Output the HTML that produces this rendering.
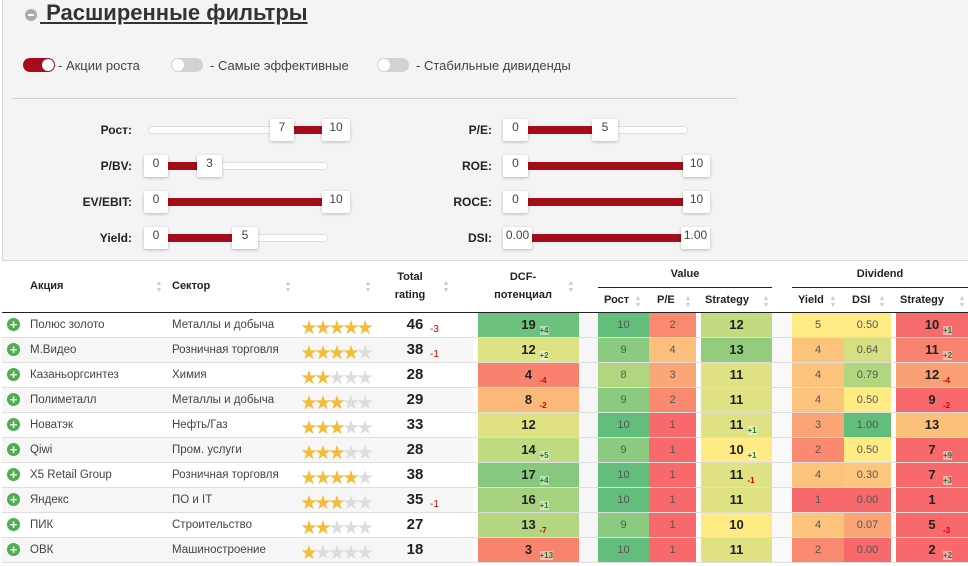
<!DOCTYPE html>
<html><head><meta charset="utf-8">
<style>
*{box-sizing:border-box;margin:0;padding:0}
body{width:968px;height:566px;overflow:hidden;background:#fff;font-family:"Liberation Sans","Noto Sans CJK SC",sans-serif;color:#333;position:relative}
.a{position:absolute}
#panel{left:2px;top:-1px;width:968px;height:262px;background:#f4f4f4;border:1px solid #d8d8d8}
.tog{width:32px;height:14px;border-radius:7px}
.tog .k{position:absolute;top:1px;width:12px;height:12px;border-radius:50%;background:#fff}
.tl{font-size:13px;color:#444}
.lbl{font-size:12px;font-weight:bold;color:#222;text-align:right;width:90px}
.track{height:8px;background:#fff;border:1px solid #ddd;border-radius:4px}
.fill{height:8px;background:#a50d1b}
.h{height:22px;background:#fff;box-shadow:0 1px 3px rgba(0,0,0,.25);border-radius:2px;font-size:12px;color:#444;text-align:center;line-height:16px}
.th{font-size:11px;font-weight:bold;color:#222;text-align:center}
.sort{font-size:7px;color:#ccc;line-height:7px;width:8px;text-align:center}
.cell{height:24px;text-align:center;line-height:24px}
.num{font-size:11px;color:#555}
.big{font-size:13px;font-weight:bold;color:#222}
.d{font-size:8px;position:absolute;line-height:9px}
.neg{color:#d40000}
.pos{color:#1f7a2f;background:rgba(255,255,255,.45)}
</style></head><body>
<div id="panel" class="a"></div>
<div class="a" style="left:25px;top:9px;width:12px;height:12px;border-radius:50%;background:#aaa"><div class="a" style="left:3px;top:5px;width:6px;height:2px;background:#fff"></div></div>
<div class="a" style="left:40px;top:0px;font-size:22px;font-weight:bold;color:#333;text-decoration:underline">&nbsp;Расширенные фильтры</div>

<div class="a tog" style="left:23px;top:58px;background:#a50d1b"><div class="k" style="left:19px"></div></div>
<div class="a tl" style="left:58px;top:58px">- Акции роста</div>
<div class="a tog" style="left:171px;top:58px;background:#cfd3d8"><div class="k" style="left:1px"></div></div>
<div class="a tl" style="left:210px;top:58px">- Самые эффективные</div>
<div class="a tog" style="left:377px;top:58px;background:#cfd3d8"><div class="k" style="left:1px"></div></div>
<div class="a tl" style="left:416px;top:58px">- Стабильные дивиденды</div>
<div class="a" style="left:12px;top:98px;width:725px;height:1px;background:#d0d0d0"></div>

<div id="sl"></div>
<div id="tbl"></div>

<script>
const sliders=[
 ["Рост:",132,120,148,328,270,294,322,350,"7","10"],
 ["P/BV:",132,156,148,328,144,168,197,222,"0","3"],
 ["EV/EBIT:",132,192,148,328,144,168,322,350,"0","10"],
 ["Yield:",132,228,148,328,144,168,232,258,"0","5"],
 ["P/E:",492,120,508,688,503,528,592,618,"0","5"],
 ["ROE:",492,156,508,688,503,528,683,710,"0","10"],
 ["ROCE:",492,192,508,688,503,528,683,710,"0","10"],
 ["DSI:",492,228,508,688,503,532,681,710,"0.00","1.00"]];
let s='';
sliders.forEach((r,i)=>{
 const slug=r[0].replace(/[:\/]/g,'').toLowerCase();
 s+=`<div class="a lbl" style="left:${r[1]-90}px;top:${r[2]+3}px">${r[0]}</div>`;
 s+=`<div class="a track" style="left:${r[3]}px;top:${r[2]+6}px;width:${r[4]-r[3]}px"></div>`;
 s+=`<div class="a fill" style="left:${r[6]}px;top:${r[2]+6}px;width:${r[7]-r[6]}px"></div>`;
 s+=`<div class="a h" style="left:${r[5]}px;top:${r[2]-1}px;width:${r[6]-r[5]}px">${r[9]}</div>`;
 s+=`<div class="a h" style="left:${r[7]}px;top:${r[2]-1}px;width:${r[8]-r[7]}px">${r[10]}</div>`;
});
document.getElementById('sl').innerHTML=s;

const names=["Полюс золото","М.Видео","Казаньоргсинтез","Полиметалл","Новатэк","Qiwi","X5 Retail Group","Яндекс","ПИК","ОВК"];
const sectors=["Металлы и добыча","Розничная торговля","Химия","Металлы и добыча","Нефть/Газ","Пром. услуги","Розничная торговля","ПО и IT","Строительство","Машиностроение"];
const stars=[5,4,2,3,3,3,4,3,2,1];
const total=[46,38,28,29,33,28,38,35,27,18];
const totalD=[-3,-1,0,0,0,0,0,-1,0,0];
const dcf=[19,12,4,8,12,14,17,16,13,3];
const dcfD=[4,2,-4,-2,0,5,4,1,-7,13];
const dcfC=["#6cc17c","#dde283","#f8826d","#fbba7a","#dfe283","#bedb81","#86c87e","#a6d27f","#b5d680","#f8846e"];
const rost=[10,9,8,9,10,9,10,10,9,10];
const rostC=["#63be7b","#8acb7f","#b0d680","#8acb7f","#63be7b","#8acb7f","#63be7b","#63be7b","#8acb7f","#63be7b"];
const pe=[2,4,3,2,1,1,1,1,1,1];
const peC=["#f98a70","#fcc07c","#fba676","#f98a70","#f8696b","#f8696b","#f8696b","#f8696b","#f8696b","#f8696b"];
const vstr=[12,13,11,11,11,10,11,11,10,11];
const vstrD=[0,0,0,0,1,1,-1,0,0,0];
const vstrC=["#c3db80","#94cc7e","#dfe283","#dfe283","#dfe283","#ffeb84","#dfe283","#dfe283","#ffeb84","#dfe283"];
const yld=[5,4,4,4,3,2,4,1,4,2];
const yldC=["#ffeb84","#fcc37c","#fcc37c","#fcc37c","#fba576","#f98970","#fcc37c","#f8696b","#fcc37c","#f98970"];
const dsi=["0.50","0.64","0.79","0.50","1.00","0.50","0.30","0.00","0.07","0.00"];
const dsiC=["#ffeb84","#d4e082","#b0d680","#ffeb84","#63be7b","#ffeb84","#fdc67d","#f8696b","#fba476","#f8696b"];
const dstr=[10,11,12,9,13,7,7,1,5,2];
const dstrD=[1,2,-4,-2,0,9,3,0,-3,2];
const dstrC=["#f66c6c","#f98370","#fba074","#f8696b","#fcc27c","#f8696b","#f8696b","#f8696b","#f8696b","#f8696b"];

let t='';
const sort=(x,y)=>`<div class="a sort" style="left:${x}px;top:${y}px">▲<br>▼</div>`;
t+=`<div class="a th" style="left:30px;top:280px">Акция</div>`+sort(155,280);
t+=`<div class="a th" style="left:172px;top:280px">Сектор</div>`+sort(284,280);
t+=sort(364,280);
t+=`<div class="a th" style="left:385px;top:268px;width:50px;line-height:18px">Total<br>rating</div>`+sort(442,280);
t+=`<div class="a th" style="left:478px;top:268px;width:90px;line-height:18px">DCF-<br>потенциал</div>`+sort(567,280);
t+=`<div class="a th" style="left:598px;top:268px;width:174px">Value</div>`;
t+=`<div class="a" style="left:598px;top:287px;width:174px;height:1px;background:#222"></div>`;
t+=`<div class="a th" style="left:792px;top:268px;width:176px">Dividend</div>`;
t+=`<div class="a" style="left:792px;top:287px;width:176px;height:1px;background:#222"></div>`;
[["Рост",604,634,"value-growth-header"],["P/E",657,684,"value-pe-header"],["Strategy",705,762,"value-strategy-header"],["Yield",798,829,"dividend-yield-header"],["DSI",852,878,"dividend-dsi-header"],["Strategy",900,958,"dividend-strategy-header"]].forEach(h=>{
 t+=`<div class="a th" style="left:${h[1]}px;top:294px">${h[0]}</div>`+sort(h[2],295);
});
t+=`<div class="a" style="left:2px;top:312px;width:966px;height:1px;background:#222"></div>`;
t+=`<div class="a" style="left:579px;top:313px;width:19px;height:250px;background:#f6f6f8"></div>`;
t+=`<div class="a" style="left:772px;top:313px;width:20px;height:250px;background:#f9f9fa"></div>`;
function delta(v,x,y){ if(!v) return ''; return `<span class="d ${v>0?'pos':'neg'}" style="left:${x}px;top:${y}px">${v>0?'+':''}${v}</span>`;}
function cell(x,w,y,bg,val,cls,d,nm){
 return `<div class="a cell ${cls}" style="left:${x}px;top:${y}px;width:${w}px;background:${bg}">${val}${delta(d,w/2+11,13)}</div>`;
}
names.forEach((n,i)=>{
 const y=313+i*25;
 if(i%2==1) t+=`<div class="a" style="left:2px;top:${y}px;width:471px;height:24px;background:#f6f6f6"></div>`;
 t+=`<div class="a" style="left:2px;top:${y+24}px;width:966px;height:1px;background:#dedede"></div>`;
 t+=`<div class="a" style="left:7px;top:${y+5}px;width:13px;height:13px;border-radius:50%;background:#4cae4c;color:#fff;font-size:13px;font-weight:bold;line-height:13px;text-align:center">+</div>`;
 t+=`<div class="a" style="left:30px;top:${y+6}px;font-size:11.5px;color:#444">${n}</div>`;
 t+=`<div class="a" style="left:172px;top:${y+6}px;font-size:11.5px;color:#444">${sectors[i]}</div>`;
 let st='';for(let k=0;k<5;k++) st+=`<span style="color:${k<stars[i]?'#f3bd3a':'#dcdcdc'}">★</span>`;
 t+=`<div class="a" style="left:301px;top:${y+1}px;font-size:16px;letter-spacing:-2px">${st}</div>`;
 t+=`<div class="a big" style="left:395px;top:${y+3}px;width:40px;text-align:center;font-size:15px">${total[i]}</div>`;
 if(totalD[i]) t+=`<div class="a" style="left:430px;top:${y+11}px;font-size:10px;color:#d40000">${totalD[i]}</div>`;
 t+=cell(478,101,y,dcfC[i],dcf[i],'big',dcfD[i],'dcf-cell');
 t+=cell(598,51,y,rostC[i],rost[i],'num',0,'value-growth-cell');
 t+=cell(649,47,y,peC[i],pe[i],'num',0,'value-pe-cell');
 t+=cell(701,71,y,vstrC[i],vstr[i],'big',vstrD[i],'value-strategy-cell');
 t+=cell(792,52,y,yldC[i],yld[i],'num',0,'dividend-yield-cell');
 t+=cell(844,47,y,dsiC[i],dsi[i],'num',0,'dividend-dsi-cell');
 t+=cell(896,72,y,dstrC[i],dstr[i],'big',dstrD[i],'dividend-strategy-cell');
});
document.getElementById('tbl').innerHTML=t;
</script>
</body></html>
